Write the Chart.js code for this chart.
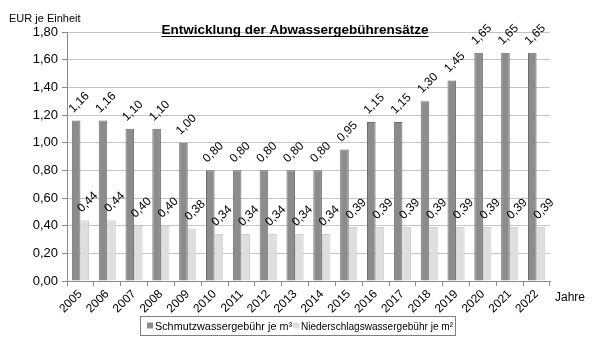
<!DOCTYPE html>
<html>
<head>
<meta charset="utf-8">
<script src="https://cdn.jsdelivr.net/npm/chart.js@4/dist/chart.umd.min.js"></script>
<style>
  html, body { margin: 0; padding: 0; background: #fff; }
  #wrap { width: 606px; height: 342px; position: relative; }
</style>
</head>
<body>
<div id="wrap"><canvas id="chartGebuehren" width="606" height="342"></canvas></div>
<script>
const FONT_FAMILY = "'Liberation Sans', Arial, sans-serif";

// ── Daten ──
const jahre = ['2005','2006','2007','2008','2009','2010','2011','2012','2013',
               '2014','2015','2016','2017','2018','2019','2020','2021','2022'];
const schmutzwasser = [1.16, 1.16, 1.10, 1.10, 1.00, 0.80, 0.80, 0.80, 0.80,
                       0.80, 0.95, 1.15, 1.15, 1.30, 1.45, 1.65, 1.65, 1.65];
const niederschlag  = [0.44, 0.44, 0.40, 0.40, 0.38, 0.34, 0.34, 0.34, 0.34,
                       0.34, 0.39, 0.39, 0.39, 0.39, 0.39, 0.39, 0.39, 0.39];
const yTicks = [0, 0.2, 0.4, 0.6, 0.8, 1.0, 1.2, 1.4, 1.6, 1.8];

const fmt = v => v.toFixed(2).replace('.', ',');

// ── Werte-Beschriftung schräg über den Balken ──
const valueLabels = {
    id: 'valueLabels',
    afterDatasetsDraw(chart) {
        const ctx = chart.ctx;
        ctx.save();
        ctx.fillStyle = '#000';
        ctx.font = `12px ${FONT_FAMILY}`;
        ctx.textAlign = 'center';
        ctx.textBaseline = 'middle';
        chart.data.datasets.forEach((ds, di) => {
            chart.getDatasetMeta(di).data.forEach((bar, i) => {
                ctx.save();
                ctx.translate(bar.x + 3, bar.y - 18);
                ctx.rotate(-Math.PI / 4);
                ctx.fillText(fmt(ds.data[i]), 0, 0);
                ctx.restore();
            });
        });
        ctx.restore();
    }
};

// ── Titel, Achsentitel und Legende ──
const decorations = {
    id: 'decorations',
    afterDraw(chart) {
        const ctx = chart.ctx;
        const area = chart.chartArea;
        ctx.save();
        ctx.fillStyle = '#000';
        ctx.textBaseline = 'alphabetic';

        // Titel (fett, unterstrichen)
        const title = 'Entwicklung der Abwassergebührensätze';
        ctx.font = `bold 13.5px ${FONT_FAMILY}`;
        ctx.textAlign = 'center';
        const tx = 295, ty = 34;
        ctx.fillText(title, tx, ty);
        const tw = ctx.measureText(title).width;
        ctx.fillRect(tx - tw / 2, ty + 2, tw, 1);

        // Einheit oben links
        ctx.font = `11px ${FONT_FAMILY}`;
        ctx.textAlign = 'left';
        ctx.fillText('EUR je Einheit', 9, 22);

        // Achsentitel rechts
        ctx.font = `12px ${FONT_FAMILY}`;
        ctx.fillText('Jahre', area.right + 5, 301);

        // Legende mit Rahmen, Text leicht schmal gesetzt
        ctx.font = `11px ${FONT_FAMILY}`;
        const box = { x: 140, y: 316, w: 315, h: 19 };
        ctx.strokeStyle = '#7f7f7f';
        ctx.lineWidth = 1;
        ctx.strokeRect(box.x + 0.5, box.y + 0.5, box.w, box.h);
        const itemX = [box.x + 7, box.x + 153];
        const itemW = [137, 152];
        const cy = box.y + box.h / 2 + 1;
        chart.data.datasets.forEach((ds, i) => {
            ctx.fillStyle = ds.backgroundColor;
            ctx.fillRect(itemX[i], cy - 4, 6, 6);
            ctx.fillStyle = '#000';
            ctx.textBaseline = 'middle';
            ctx.fillText(ds.label, itemX[i] + 8, cy, itemW[i]);
        });
        ctx.restore();
    }
};

new Chart(document.getElementById('chartGebuehren'), {
    type: 'bar',
    data: {
        labels: jahre,
        datasets: [
            {
                label: 'Schmutzwassergebühr je m³',
                data: schmutzwasser,
                backgroundColor: '#8c8c8c',
                borderColor: '#6e6e6e',
                borderWidth: 1,
                categoryPercentage: 0.64,
                barPercentage: 1.0
            },
            {
                label: 'Niederschlagswassergebühr je m²',
                data: niederschlag,
                backgroundColor: '#dedede',
                borderColor: '#d0d0d0',
                borderWidth: 1,
                categoryPercentage: 0.64,
                barPercentage: 1.0
            }
        ]
    },
    options: {
        responsive: false,
        animation: false,
        layout: { padding: { top: 32, right: 56, bottom: 0, left: 0 } },
        plugins: {
            legend: { display: false },
            tooltip: { enabled: false }
        },
        scales: {
            x: {
                grid: { offset: true, drawOnChartArea: false, drawTicks: true, tickLength: 5, color: '#8a8a8a' },
                border: { color: '#8a8a8a' },
                ticks: {
                    font: { family: FONT_FAMILY, size: 12 },
                    color: '#000',
                    minRotation: 45,
                    maxRotation: 45,
                    padding: 1
                },
                afterFit: s => { s.height = 61; }
            },
            y: {
                min: 0,
                max: 1.8,
                afterBuildTicks: s => { s.ticks = yTicks.map(v => ({ value: v })); },
                grid: { color: '#c4c4c4', tickLength: 5, tickColor: '#8a8a8a' },
                border: { color: '#8a8a8a' },
                ticks: {
                    font: { family: FONT_FAMILY, size: 13 },
                    color: '#000',
                    padding: 4,
                    callback: v => fmt(v)
                },
                afterFit: s => { s.width = 67; }
            }
        }
    },
    plugins: [valueLabels, decorations]
});
</script>
</body>
</html>
